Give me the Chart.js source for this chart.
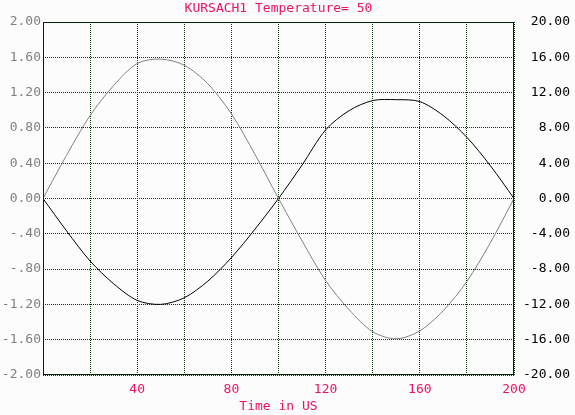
<!DOCTYPE html>
<html>
<head>
<meta charset="utf-8">
<script src="https://cdn.jsdelivr.net/npm/chart.js@4/dist/chart.umd.min.js"></script>
<style>
  body { margin: 0; background: #fcfcfc; }
  canvas { display: block; }
</style>
</head>
<body>
<canvas id="chart" width="575" height="415"></canvas>
<script>
// time points (us)
const timeValues = [0, 10, 20, 30, 40, 50, 60, 70, 80, 90, 100,
                    110, 120, 130, 140, 150, 160, 170, 180, 190, 200];
// gray trace, left axis
const grayValues = [0, 0.49, 0.94, 1.28, 1.53, 1.58, 1.51, 1.30, 0.96, 0.50, 0,
                    -0.48, -0.93, -1.26, -1.51, -1.59, -1.50, -1.27, -0.94, -0.50, 0];
// black trace, right axis
const blackValues = [0, -3.67, -7.08, -9.66, -11.55, -12.0, -11.25, -9.36, -6.7, -3.48, 0,
                     3.79, 7.77, 9.96, 11.1, 11.2, 10.98, 9.39, 6.93, 3.71, 0];

const leftTickLabels = ['2.00', '1.60', '1.20', '0.80', '0.40', '0.00',
                        '-.40', '-.80', '-1.20', '-1.60', '-2.00'];
const rightTickLabels = ['20.00', '16.00', '12.00', '8.00', '4.00', '0.00',
                         '-4.00', '-8.00', '-12.00', '-16.00', '-20.00'];
const xTickValues = [40, 80, 120, 160, 200];
const xTickLabels = ['40', '80', '120', '160', '200'];

const titleText = 'KURSACH1 Temperature= 50';
const pink = '#ee1166';
const gridGreen = '#004000';
const monoFont = { family: 'DejaVu Sans Mono', size: 13 };

const frameAndTitle = {
  id: 'frameAndTitle',
  afterDraw(chart) {
    const { ctx, chartArea } = chart;
    ctx.save();
    ctx.strokeStyle = '#002800';
    ctx.lineWidth = 1;
    ctx.strokeRect(chartArea.left + 0.5, chartArea.top + 0.5,
                   chartArea.right - chartArea.left - 1, chartArea.bottom - chartArea.top - 1);
    ctx.fillStyle = pink;
    ctx.font = '13px "DejaVu Sans Mono"';
    ctx.textAlign = 'center';
    ctx.textBaseline = 'middle';
    ctx.fillText(titleText, (chartArea.left + chartArea.right) / 2, 9);
    ctx.restore();
  }
};

new Chart(document.getElementById('chart'), {
  type: 'line',
  data: {
    datasets: [
      {
        data: timeValues.map((t, i) => ({ x: t, y: grayValues[i] })),
        borderColor: '#808080',
        borderWidth: 1,
        pointRadius: 0,
        tension: 0.3,
        yAxisID: 'yLeft'
      },
      {
        data: timeValues.map((t, i) => ({ x: t, y: blackValues[i] })),
        borderColor: '#000000',
        borderWidth: 1,
        pointRadius: 0,
        tension: 0.3,
        yAxisID: 'yRight'
      }
    ]
  },
  options: {
    responsive: false,
    animation: false,
    layout: { padding: { top: 22, right: 5, left: 0, bottom: 0 } },
    plugins: { legend: { display: false }, tooltip: { enabled: false } },
    scales: {
      x: {
        type: 'linear',
        min: 0,
        max: 200,
        afterFit: s => { s.height = 40; },
        ticks: {
          stepSize: 20,
          autoSkip: false,
          maxRotation: 0,
          padding: 7,
          color: pink,
          font: monoFont,
          callback: v => {
            const i = xTickValues.indexOf(Math.round(v));
            return i >= 0 ? xTickLabels[i] : '';
          }
        },
        grid: { color: gridGreen, lineWidth: 1, drawTicks: false },
        border: { display: false, dash: [1, 1] },
        title: {
          display: true,
          text: 'Time in US',
          color: pink,
          font: monoFont,
          padding: { top: 0, bottom: 1 }
        }
      },
      yLeft: {
        position: 'left',
        min: -2,
        max: 2,
        afterFit: s => { s.width = 43; },
        ticks: {
          stepSize: 0.4,
          autoSkip: false,
          padding: 2,
          color: '#808080',
          font: monoFont,
          callback: v => leftTickLabels[Math.round((2 - v) / 0.4)]
        },
        grid: { color: gridGreen, lineWidth: 1, drawTicks: false },
        border: { display: false, dash: [1, 1] }
      },
      yRight: {
        position: 'right',
        min: -20,
        max: 20,
        afterFit: s => { s.width = 56; },
        ticks: {
          stepSize: 4,
          autoSkip: false,
          crossAlign: 'far',
          color: '#000000',
          font: monoFont,
          callback: v => rightTickLabels[Math.round((20 - v) / 4)]
        },
        grid: { drawOnChartArea: false, drawTicks: false },
        border: { display: false }
      }
    }
  },
  plugins: [frameAndTitle]
});
</script>
</body>
</html>
